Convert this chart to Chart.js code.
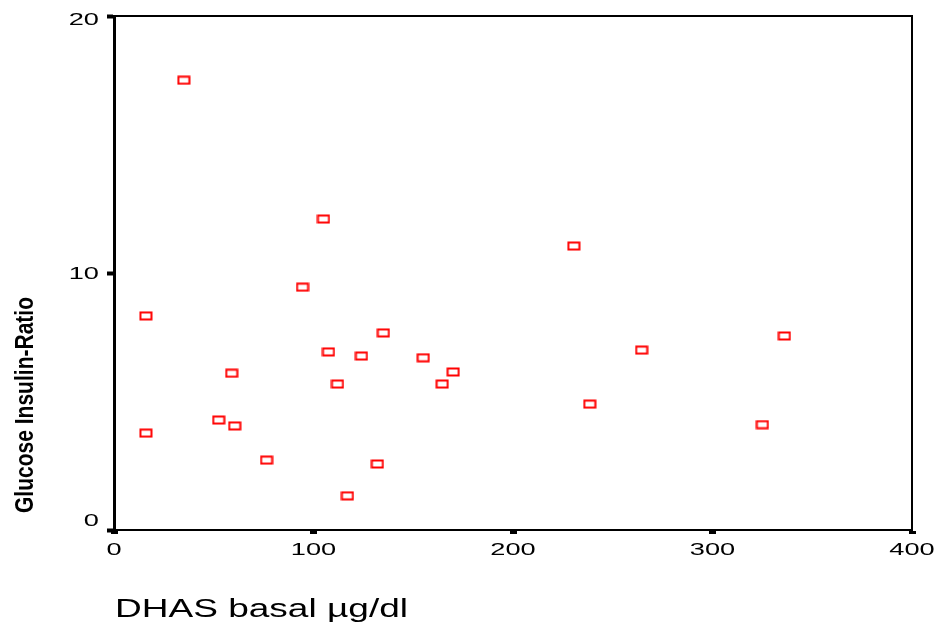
<!DOCTYPE html>
<html>
<head>
<meta charset="utf-8">
<script src="https://cdn.jsdelivr.net/npm/chart.js@4/dist/chart.umd.min.js"></script>
<style>
  body { margin: 0; background: #fff; }
  #wrap { width: 940px; height: 622px; }
</style>
</head>
<body>
<div id="wrap"><canvas id="chart" width="940" height="622"></canvas></div>
<script>
// Valores
const dhasBasal = [35, 16, 16, 52.5, 59, 60.5, 76.5, 94.5, 105, 107.5, 112, 117, 124, 132, 135, 155, 164.5, 170, 230.5, 238.5, 264.5, 325, 336];
const glucoseInsulinRatio = [17.5, 8.33, 3.77, 4.28, 6.1, 4.05, 2.72, 9.45, 12.1, 6.93, 5.68, 1.33, 6.77, 2.57, 7.67, 6.7, 5.68, 6.15, 11.05, 4.9, 7.0, 4.1, 7.55];
const xTicks = [0, 100, 200, 300, 400];
const yTicks = [0, 10, 20];
const xTitle = 'DHAS basal µg/dl';
const yTitle = 'Glucose Insulin-Ratio';

const FONT = '"Liberation Sans", Arial, sans-serif';

// Marcador retangular vazado
const marker = document.createElement('canvas');
marker.width = 14;
marker.height = 10;
const mctx = marker.getContext('2d');
mctx.strokeStyle = '#ff0000';
mctx.lineWidth = 2;
mctx.strokeRect(1.5, 1.5, 11, 7);

// Texto esticado na horizontal
function stretchedText(ctx, text, x, y, sx, align) {
    ctx.save();
    ctx.translate(x, y);
    ctx.scale(sx, 1);
    ctx.textAlign = align;
    ctx.fillText(text, 0, 0);
    ctx.restore();
}

const labelsPlugin = {
    id: 'labels',
    afterDraw(chart) {
        const { ctx, chartArea, scales } = chart;
        ctx.save();
        ctx.fillStyle = '#000';

        // Moldura superior e direita
        ctx.strokeStyle = '#000';
        ctx.lineWidth = 2;
        ctx.beginPath();
        ctx.moveTo(chartArea.left, chartArea.top);
        ctx.lineTo(chartArea.right, chartArea.top);
        ctx.lineTo(chartArea.right, chartArea.bottom);
        ctx.stroke();

        ctx.font = '17px ' + FONT;
        ctx.textBaseline = 'alphabetic';
        xTicks.forEach(v => {
            const px = scales.x.getPixelForValue(v);
            stretchedText(ctx, String(v), px, 555, 1.6, 'center');
        });
        yTicks.forEach(v => {
            let py = scales.y.getPixelForValue(v);
            py = Math.min(Math.max(py, chartArea.top + 3), chartArea.bottom - 10);
            stretchedText(ctx, String(v), 99, py + 6, 1.6, 'right');
        });

        // Título do eixo X
        ctx.font = '26px ' + FONT;
        const wx = ctx.measureText(xTitle).width;
        stretchedText(ctx, xTitle, 115, 617, 293 / wx, 'left');

        // Título do eixo Y (comprimido)
        ctx.font = 'bold 26px ' + FONT;
        const wy = ctx.measureText(yTitle).width;
        ctx.save();
        ctx.translate(33, 513);
        ctx.rotate(-Math.PI / 2);
        ctx.scale(216 / wy, 1);
        ctx.textAlign = 'left';
        ctx.fillText(yTitle, 0, 0);
        ctx.restore();

        ctx.restore();
    }
};

const points = dhasBasal.map((x, i) => ({ x: x, y: glucoseInsulinRatio[i] }));

new Chart(document.getElementById('chart'), {
    type: 'scatter',
    data: {
        datasets: [{
            data: points,
            pointStyle: marker,
            pointRadius: 6,
            pointHoverRadius: 6
        }]
    },
    options: {
        responsive: false,
        animation: false,
        events: [],
        layout: {
            padding: { left: 107, top: 16, right: 28, bottom: 88 }
        },
        scales: {
            x: {
                type: 'linear',
                min: 0,
                max: 400,
                afterBuildTicks: s => { s.ticks = xTicks.map(v => ({ value: v })); },
                ticks: { display: false },
                grid: {
                    display: true,
                    drawOnChartArea: false,
                    drawTicks: true,
                    tickLength: 4,
                    tickWidth: 7,
                    tickColor: '#000'
                },
                border: { display: true, color: '#000', width: 2 }
            },
            y: {
                type: 'linear',
                min: 0,
                max: 20,
                afterBuildTicks: s => { s.ticks = yTicks.map(v => ({ value: v })); },
                ticks: { display: false },
                grid: {
                    display: true,
                    drawOnChartArea: false,
                    drawTicks: true,
                    tickLength: 7,
                    tickWidth: 4,
                    tickColor: '#000'
                },
                border: { display: true, color: '#000', width: 3 }
            }
        },
        plugins: {
            legend: { display: false },
            tooltip: { enabled: false }
        }
    },
    plugins: [labelsPlugin]
});
</script>
</body>
</html>
